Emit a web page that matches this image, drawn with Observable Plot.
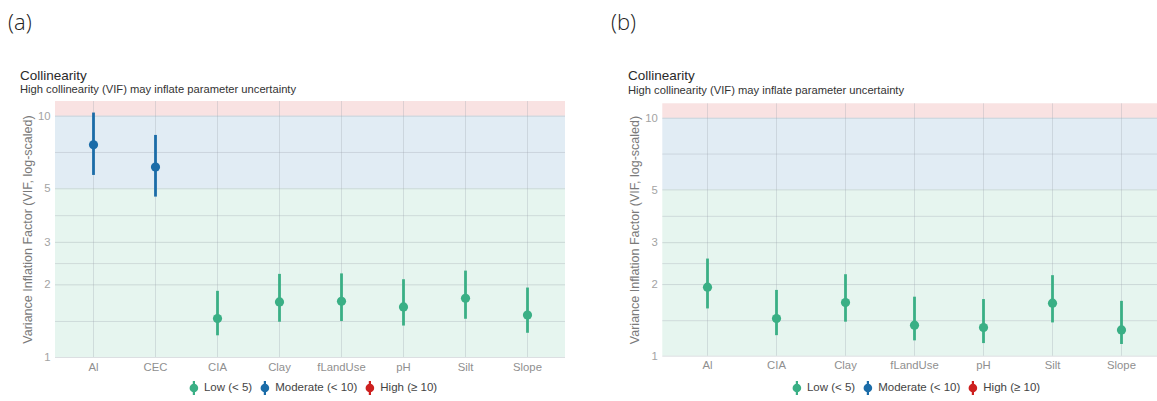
<!DOCTYPE html>
<html>
<head>
<meta charset="utf-8">
<script src="https://cdn.jsdelivr.net/npm/d3@7"></script>
<script src="https://cdn.jsdelivr.net/npm/@observablehq/plot@0.6"></script>
<style>
  html, body { margin: 0; padding: 0; background: #fff; overflow: hidden; }
  #wrap { position: relative; width: 1157px; height: 401px; overflow: hidden; font-family: "Liberation Sans", Arial, sans-serif; }
  .abs { position: absolute; white-space: nowrap; line-height: 1; }
  .panel-label { font-family: "Open Sans", sans-serif; font-weight: 300; font-size: 22px; color: #222; }
  .title { font-size: 13.5px; color: #2a2a2a; }
  .subtitle { font-size: 11.2px; color: #333; }
  .legend { font-size: 11.5px; color: #444; display: flex; align-items: center; transform: translateX(-50%); }
  .legend .item { display: flex; align-items: center; margin-right: 8px; }
  .legend .item:last-child { margin-right: 0; }
  .legend svg { margin-right: 5px; }
</style>
</head>
<body>
<div id="wrap"></div>
<script>
// ---------- data ----------
const categoriesA = ["Al", "CEC", "CIA", "Clay", "fLandUse", "pH", "Silt", "Slope"];
const vifA  = [7.61, 6.15, 1.45, 1.70, 1.71, 1.62, 1.76, 1.50];
const lowA  = [5.68, 4.62, 1.23, 1.40, 1.41, 1.35, 1.44, 1.26];
const highA = [10.3, 8.32, 1.88, 2.21, 2.22, 2.10, 2.28, 1.94];

const categoriesB = ["Al", "CIA", "Clay", "fLandUse", "pH", "Silt", "Slope"];
const vifB  = [1.95, 1.44, 1.68, 1.35, 1.32, 1.67, 1.29];
const lowB  = [1.58, 1.22, 1.39, 1.16, 1.13, 1.38, 1.12];
const highB = [2.56, 1.89, 2.20, 1.77, 1.73, 2.18, 1.70];

const yTicks = [1, 2, 3, 5, 10];
const yMinor = [1.41, 2.45, 3.87, 7.07];
const yDomain = [1, 11.5];
const bandEdges = [1, 5, 10, 11.5];
const groups = ["Low (< 5)", "Moderate (< 10)", "High (≥ 10)"];
const groupColors = ["#3aaf85", "#1b6ca8", "#cd201f"];
const titleText = "Collinearity";
const subtitleText = "High collinearity (VIF) may inflate parameter uncertainty";
const yLabel = "Variance Inflation Factor (VIF, log-scaled)";

// ---------- helpers ----------
const wrap = document.getElementById("wrap");
function addDiv(cls, text, left, top) {
  const d = document.createElement("div");
  d.className = "abs " + cls;
  d.textContent = text;
  d.style.left = left + "px";
  d.style.top = top + "px";
  wrap.appendChild(d);
  return d;
}
function groupOf(v) { return v < 5 ? groups[0] : v < 10 ? groups[1] : groups[2]; }

function makePanel(cats, vif, lo, hi, m) {
  const data = cats.map((c, i) => ({term: c, vif: vif[i], lo: lo[i], hi: hi[i], group: groupOf(vif[i])}));
  const bands = groups.map((g, i) => ({group: g, y1: bandEdges[i], y2: bandEdges[i + 1]}));
  const svg = Plot.plot({
    width: m.width, height: m.height,
    marginLeft: m.left, marginRight: m.right, marginTop: m.top, marginBottom: m.bottom,
    style: {fontFamily: "'Liberation Sans', Arial, sans-serif", fontSize: "11.3px", background: "transparent", overflow: "visible"},
    x: {type: "point", domain: cats, padding: 0.6, axis: null},
    y: {type: "log", domain: yDomain, axis: null},
    color: {domain: groups, range: groupColors},
    marks: [
      Plot.rect(bands, {y1: "y1", y2: "y2", fill: "group", fillOpacity: 0.13}),
      Plot.ruleY(yMinor, {stroke: "#9aa3ab", strokeOpacity: 0.3, strokeWidth: 1}),
      Plot.ruleY(yTicks, {stroke: "#9aa3ab", strokeOpacity: 0.35, strokeWidth: 1}),
      Plot.ruleX(cats, {stroke: "#9aa3ab", strokeOpacity: 0.3, strokeWidth: 1}),
      Plot.ruleX(data, {x: "term", y1: "lo", y2: "hi", stroke: "group", strokeWidth: 2.8}),
      Plot.dot(data, {x: "term", y: "vif", fill: "group", r: 4.6, stroke: null}),
      Plot.axisY({ticks: yTicks, tickSize: 0, tickPadding: 5, tickFormat: d => String(d), label: null, color: "#a3a3a3"}),
      Plot.axisX({tickSize: 0, tickPadding: 5, label: null, color: "#8f8f8f"}),
      Plot.text([yLabel], {frameAnchor: "left", textAnchor: "middle", lineAnchor: "middle", rotate: -90, dx: -28, fill: "#7a7a7a", fontSize: 12.5})
    ]
  });
  svg.style.position = "absolute";
  svg.style.left = m.x + "px";
  svg.style.top = m.y + "px";
  wrap.appendChild(svg);
}

function makeLegend(centerX, top) {
  const d = document.createElement("div");
  d.className = "abs legend";
  d.style.left = centerX + "px";
  d.style.top = top + "px";
  groups.forEach((g, i) => {
    const item = document.createElement("div");
    item.className = "item";
    item.innerHTML = `<svg width="10" height="16" viewBox="0 0 10 16"><line x1="5" x2="5" y1="1" y2="15" stroke="${groupColors[i]}" stroke-width="2.2"/><circle cx="5" cy="8" r="4.3" fill="${groupColors[i]}"/></svg><span>${g}</span>`;
    d.appendChild(item);
  });
  wrap.appendChild(d);
}

// ---------- panel (a) ----------
addDiv("panel-label", "(a)", 8, 10);
addDiv("title", titleText, 20, 68.6);
addDiv("subtitle", subtitleText, 20, 84.0);
makePanel(categoriesA, vifA, lowA, highA, {x: 0, y: 90, width: 600, height: 290, left: 55, right: 35, top: 11, bottom: 23});
makeLegend(313, 380);

// ---------- panel (b) ----------
addDiv("panel-label", "(b)", 611, 10);
addDiv("title", titleText, 628, 69.3);
addDiv("subtitle", subtitleText, 628, 84.8);
makePanel(categoriesB, vifB, lowB, highB, {x: 607, y: 90, width: 600, height: 290, left: 55.3, right: 40.7, top: 13.3, bottom: 24.3});
makeLegend(916, 380);
</script>
</body>
</html>
